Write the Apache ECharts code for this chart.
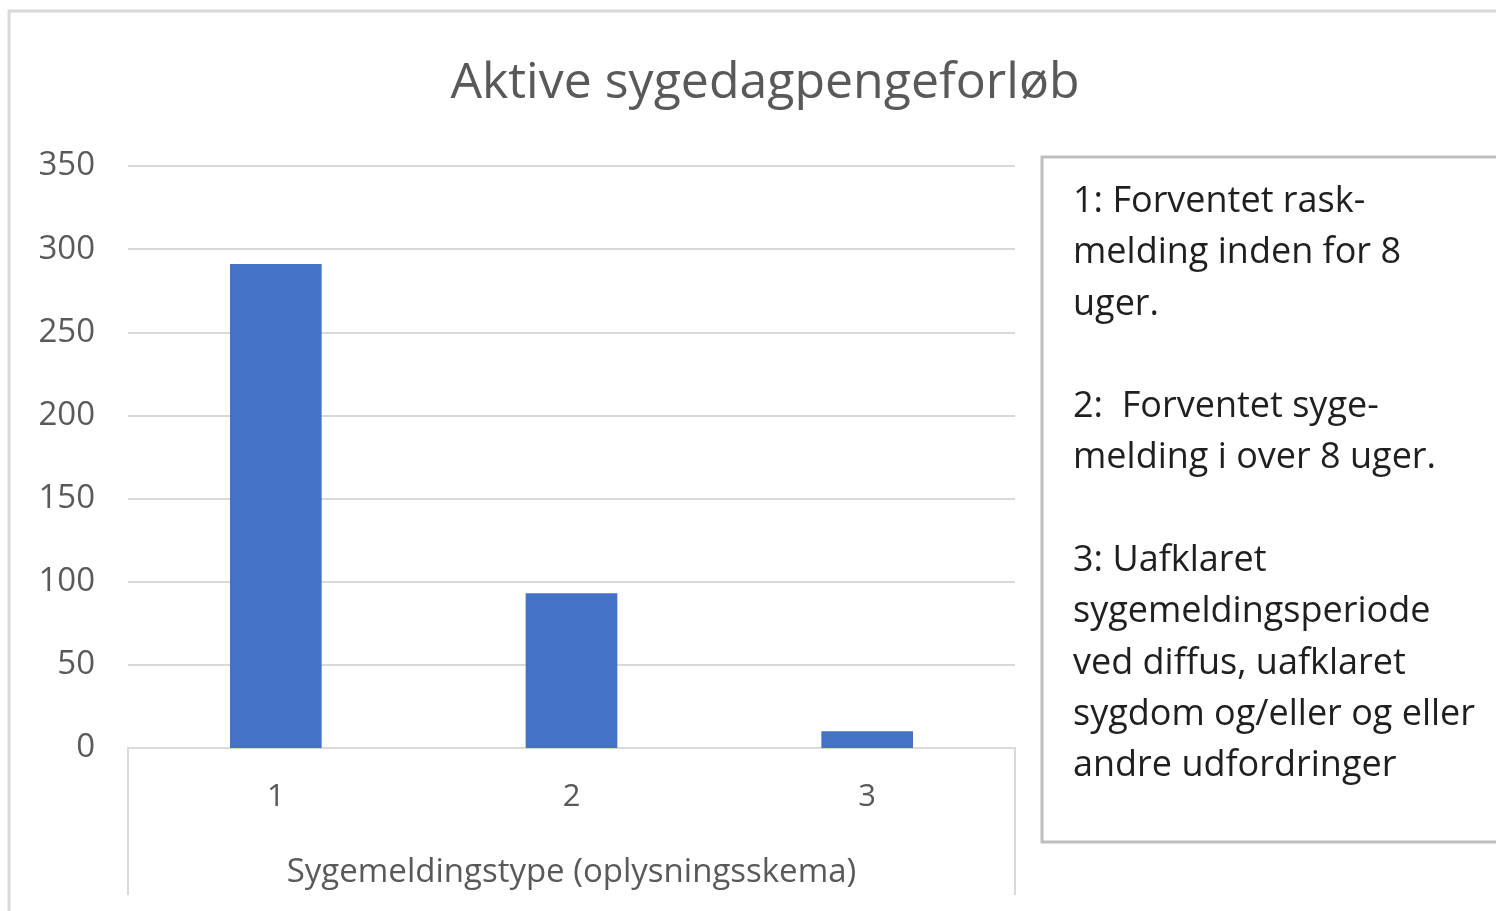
<!DOCTYPE html>
<html>
<head>
<meta charset="utf-8">
<script src="https://cdn.jsdelivr.net/npm/echarts@6/dist/echarts.min.js"></script>
<style>
html,body{margin:0;padding:0;background:#fff;}
#c{width:1496px;height:911px;}
</style>
</head>
<body>
<div id="c"></div>
<script>
const titleText = 'Aktive sygedagpengeforløb';
const categories = ['1', '2', '3'];
const values = [291, 93, 10];
const axisName = 'Sygemeldingstype (oplysningsskema)';
const legendLines = [
  '1: Forventet rask-',
  'melding inden for 8',
  'uger.',
  '',
  '2:  Forventet syge-',
  'melding i over 8 uger.',
  '',
  '3: Uafklaret',
  'sygemeldingsperiode',
  'ved diffus, uafklaret',
  'sygdom og/eller og eller',
  'andre udfordringer'
];

const FONT = '"Open Sans", "Noto Sans", sans-serif';
const chart = echarts.init(document.getElementById('c'), null, {renderer: 'canvas'});
chart.setOption({
  animation: false,
  backgroundColor: '#fff',
  title: {
    text: titleText,
    left: 760,
    textAlign: 'center',
    top: 54,
    textStyle: {fontFamily: FONT, fontSize: 50, fontWeight: 'normal', color: '#595959'}
  },
  grid: {left: 128, right: 481, top: 166, bottom: 163, containLabel: false},
  xAxis: {
    type: 'category',
    data: categories,
    axisLine: {show: true, lineStyle: {color: '#D9D9D9', width: 2}},
    axisTick: {show: false},
    axisLabel: {margin: 34, fontFamily: FONT, fontSize: 31, color: '#595959'},
    name: axisName,
    nameLocation: 'middle',
    nameGap: 108,
    nameTextStyle: {fontFamily: FONT, fontSize: 33, color: '#595959'}
  },
  yAxis: {
    type: 'value',
    min: 0, max: 350, interval: 50,
    axisLine: {show: false},
    axisTick: {show: false},
    splitLine: {lineStyle: {color: '#D9D9D9', width: 2}},
    axisLabel: {margin: 33, fontFamily: FONT, fontSize: 33, color: '#595959'}
  },
  series: [{
    type: 'bar',
    data: values,
    barWidth: '31%',
    itemStyle: {color: '#4472C4'}
  }]
});

const rect = chart.getModel().getComponent('grid', 0).coordinateSystem.getRect();
const bottomY = rect.y + rect.height;
chart.setOption({
  graphic: [
    {type: 'rect', silent: true, shape: {x: 9, y: 11, width: 1700, height: 1100},
     style: {fill: 'none', stroke: '#D9D9D9', lineWidth: 3}},
    {type: 'line', silent: true, shape: {x1: rect.x, y1: bottomY, x2: rect.x, y2: bottomY + 147},
     style: {stroke: '#D9D9D9', lineWidth: 2}},
    {type: 'line', silent: true, shape: {x1: rect.x + rect.width, y1: bottomY, x2: rect.x + rect.width, y2: bottomY + 147},
     style: {stroke: '#D9D9D9', lineWidth: 2}},
    {type: 'rect', silent: true, shape: {x: 1042, y: 157, width: 600, height: 685},
     style: {fill: '#fff', stroke: '#BFBFBF', lineWidth: 3}},
    {type: 'text', silent: true, left: 1073, top: 176,
     style: {text: legendLines.join('\n'), fontFamily: FONT, fontSize: 36, lineHeight: 51.3, fill: '#1F1F1F'}}
  ]
});
</script>
</body>
</html>
